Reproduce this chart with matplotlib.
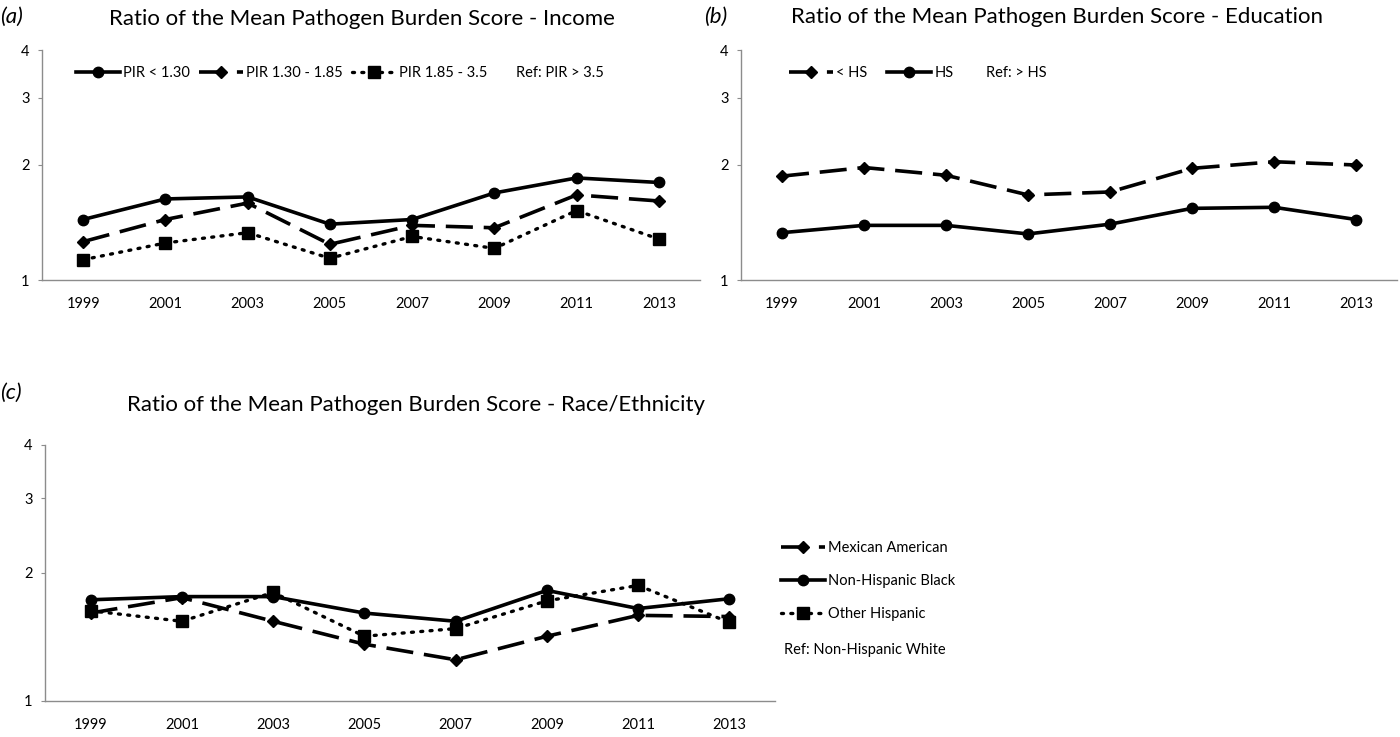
import matplotlib
matplotlib.use("Agg")
import matplotlib.pyplot as plt
from matplotlib.ticker import FixedLocator, NullLocator

plt.rcParams['font.family'] = ['Lato', 'DejaVu Sans']

years = ['1999', '2001', '2003', '2005', '2007', '2009', '2011', '2013']

# Panel (a) Income
pir_lt_130 = [1.44, 1.63, 1.65, 1.40, 1.44, 1.69, 1.85, 1.80]
pir_130_185 = [1.26, 1.44, 1.59, 1.24, 1.39, 1.37, 1.67, 1.61]
pir_185_35 = [1.13, 1.25, 1.33, 1.14, 1.30, 1.21, 1.52, 1.28]

# Panel (b) Education
lt_hs = [1.87, 1.97, 1.88, 1.67, 1.70, 1.96, 2.04, 2.00]
hs = [1.33, 1.39, 1.39, 1.32, 1.40, 1.54, 1.55, 1.44]

# Panel (c) Race/Ethnicity
mexican_american = [1.61, 1.75, 1.54, 1.36, 1.25, 1.42, 1.59, 1.58]
nh_black = [1.73, 1.76, 1.76, 1.61, 1.54, 1.82, 1.65, 1.74]
other_hispanic = [1.63, 1.54, 1.80, 1.42, 1.48, 1.72, 1.87, 1.53]

yticks = [1, 2, 3, 4]

SOLID = dict(color='black', lw=2.6, linestyle='-', marker='o', ms=7.5)
DASH = dict(color='black', lw=2.6, linestyle=(0, (7.5, 3)), marker='D', ms=6.5)
DOT = dict(color='black', lw=2.4, linestyle=(0, (0.6, 2.2)), marker='s', ms=8.5,
           dash_capstyle='round')

fig = plt.figure(figsize=(14, 7.37), dpi=100)


def style_axes(ax):
    ax.set_yscale('log')
    ax.set_ylim(1, 4)
    ax.set_xlim(-0.5, len(years) - 0.5)
    ax.yaxis.set_major_locator(FixedLocator(yticks))
    ax.yaxis.set_minor_locator(NullLocator())
    ax.set_yticklabels([str(t) for t in yticks])
    ax.set_xticks(range(len(years)))
    ax.set_xticklabels(years)
    for s in ['top', 'right']:
        ax.spines[s].set_visible(False)
    for s in ['left', 'bottom']:
        ax.spines[s].set_color('#8c8c8c')
        ax.spines[s].set_linewidth(1.0)
    ax.tick_params(axis='x', length=0, pad=12, labelsize=10.5)
    ax.tick_params(axis='y', length=3, color='#8c8c8c', pad=6, labelsize=10.5)


x = list(range(len(years)))

LEG = dict(frameon=False, handlelength=3.0, handletextpad=0.25, fontsize=10.5,
           borderpad=0, borderaxespad=0)

# (a)
axa = fig.add_axes([42/1400, 1-280/737, 658/1400, 230/737])
style_axes(axa)
la1, = axa.plot(x, pir_lt_130, **SOLID)
la2, = axa.plot(x, pir_130_185, **DASH)
la3, = axa.plot(x, pir_185_35, **DOT)
axa.legend([la1, la2, la3], ['PIR < 1.30', 'PIR 1.30 - 1.85', 'PIR 1.85 - 3.5'],
           ncol=3, loc='center left', bbox_to_anchor=((76-42)/658, 0.90),
           columnspacing=0.6, **LEG)
axa.text((516-42)/658, 0.90, 'Ref: PIR > 3.5', transform=axa.transAxes, fontsize=10.5,
         va='center', ha='left')
fig.text(0.0, 1-17/737, '(a)', fontsize=16, va='center', ha='left', style='italic')
fig.text(362/1400, 1-19/737, 'Ratio of the Mean Pathogen Burden Score - Income',
         fontsize=16, ha='center', va='center')

# (b)
axb = fig.add_axes([741/1400, 1-280/737, 656/1400, 230/737])
style_axes(axb)
lb1, = axb.plot(x, lt_hs, **DASH)
lb2, = axb.plot(x, hs, **SOLID)
axb.legend([lb1, lb2], ['< HS', 'HS'], ncol=2, loc='center left',
           bbox_to_anchor=((789-741)/656, 0.90), columnspacing=1.35, **LEG)
axb.text((986-741)/656, 0.90, 'Ref: > HS', transform=axb.transAxes, fontsize=10.5,
         va='center', ha='left')
fig.text(704/1400, 1-17/737, '(b)', fontsize=16, va='center', ha='left', style='italic')
fig.text(1057/1400, 1-17/737, 'Ratio of the Mean Pathogen Burden Score - Education',
         fontsize=16, ha='center', va='center')

# (c)
axc = fig.add_axes([45/1400, 1-701/737, 730/1400, 256/737])
style_axes(axc)
lc1, = axc.plot(x, mexican_american, **DASH)
lc2, = axc.plot(x, nh_black, **SOLID)
lc3, = axc.plot(x, other_hispanic, **DOT)
axc.legend([lc1, lc2, lc3], ['Mexican American', 'Non-Hispanic Black', 'Other Hispanic'],
           loc='upper left', bbox_to_anchor=((781-45)/730, (701-541)/256),
           labelspacing=1.3, **LEG)
fig.text(784/1400, 1-650/737, 'Ref: Non-Hispanic White', fontsize=10.5,
         va='center', ha='left')
fig.text(0.0, 1-393/737, '(c)', fontsize=16, va='center', ha='left', style='italic')
fig.text(416/1400, 1-405/737, 'Ratio of the Mean Pathogen Burden Score - Race/Ethnicity',
         fontsize=16, ha='center', va='center')

fig.savefig('out.png', dpi=100, facecolor='white')
